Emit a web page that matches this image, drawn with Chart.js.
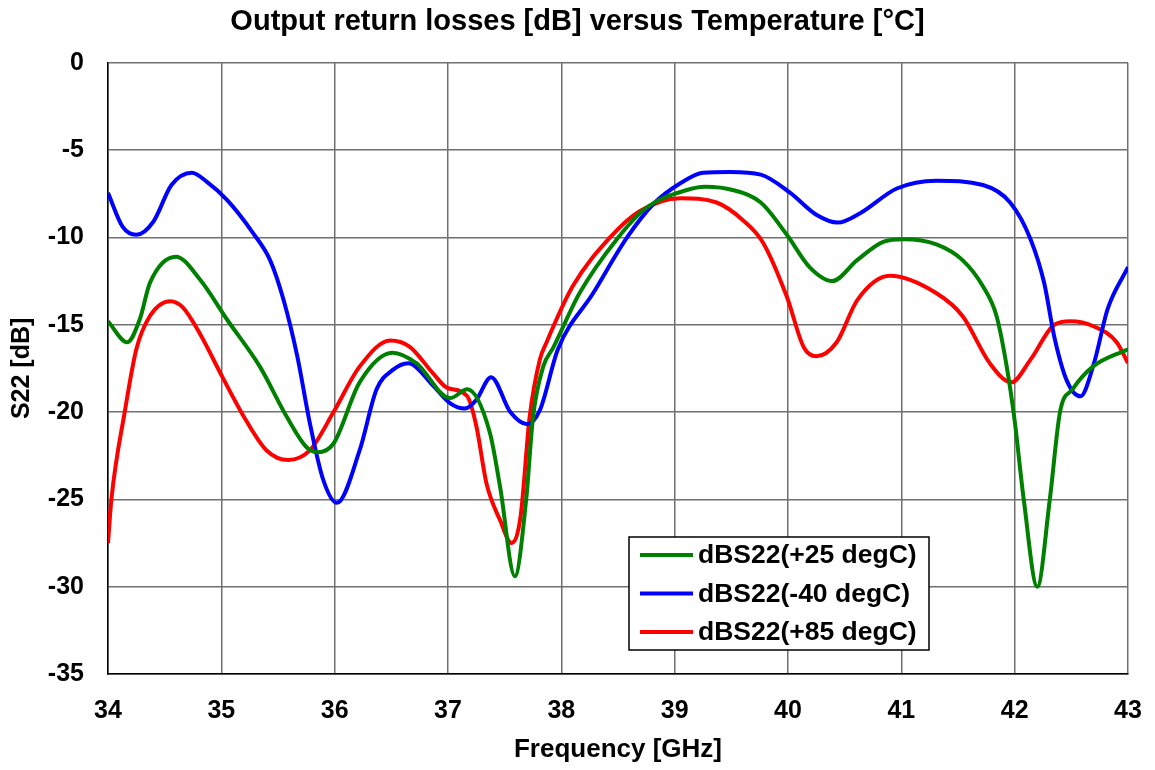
<!DOCTYPE html>
<html>
<head>
<meta charset="utf-8">
<script src="https://cdn.jsdelivr.net/npm/chart.js@4.4.1/dist/chart.umd.min.js"></script>
<style>
  html, body { margin: 0; padding: 0; background: #fff; }
  #wrap { width: 1155px; height: 770px; }
</style>
</head>
<body>
<div id="wrap"><canvas id="chart"></canvas></div>
<script>
const titleText = "Output return losses [dB] versus Temperature [°C]";
const xTitle = "Frequency [GHz]";
const yTitle = "S22 [dB]";
const seriesLabels = ["dBS22(+25 degC)", "dBS22(-40 degC)", "dBS22(+85 degC)"];

const freq25 = [34.0, 34.17, 34.28, 34.37, 34.6, 34.81, 35.05, 35.34, 35.58, 35.75, 35.85, 35.99, 36.22, 36.51, 36.72, 37.02, 37.17, 37.37, 37.46, 37.59, 37.69, 37.75, 37.84, 37.93, 38.16, 38.49, 38.75, 39.1, 39.27, 39.52, 39.76, 39.99, 40.19, 40.39, 40.61, 40.84, 41.02, 41.31, 41.54, 41.72, 41.84, 41.93, 42.0, 42.08, 42.2, 42.31, 42.4, 42.51, 42.69, 43.0];
const s22_25 = [-14.8, -16.0, -14.7, -12.6, -11.1, -12.4, -14.7, -17.4, -20.3, -22.0, -22.3, -21.8, -18.3, -16.6, -17.2, -19.2, -18.7, -21.2, -24.3, -29.4, -25.0, -20.3, -17.4, -16.3, -13.2, -10.1, -8.3, -7.3, -7.1, -7.3, -8.0, -9.85, -11.7, -12.5, -11.3, -10.25, -10.1, -10.4, -11.3, -12.8, -14.5, -17.4, -20.5, -25.0, -30.0, -25.0, -20.0, -18.7, -17.4, -16.4];

const freqM40 = [34.0, 34.13, 34.25, 34.4, 34.56, 34.74, 34.87, 35.05, 35.28, 35.43, 35.55, 35.67, 35.78, 35.9, 36.02, 36.22, 36.37, 36.51, 36.65, 36.87, 37.02, 37.15, 37.25, 37.38, 37.55, 37.7, 37.81, 37.97, 38.28, 38.58, 38.81, 39.05, 39.25, 39.49, 39.76, 40.02, 40.25, 40.44, 40.64, 40.96, 41.31, 41.72, 41.96, 42.14, 42.26, 42.35, 42.46, 42.58, 42.7, 42.82, 43.0];
const s22_m40 = [-7.45, -9.4, -9.85, -9.1, -7.0, -6.3, -6.8, -7.85, -9.75, -11.3, -13.6, -16.8, -20.6, -23.9, -25.2, -22.2, -18.7, -17.6, -17.2, -18.5, -19.5, -19.8, -19.3, -18.0, -20.0, -20.7, -19.9, -16.4, -13.2, -10.0, -8.1, -6.9, -6.3, -6.25, -6.4, -7.45, -8.7, -9.15, -8.6, -7.2, -6.75, -7.0, -8.0, -10.1, -12.6, -15.7, -18.2, -19.1, -17.2, -14.1, -11.7];

const freq85 = [34.0, 34.03, 34.15, 34.25, 34.37, 34.55, 34.66, 34.81, 35.01, 35.22, 35.4, 35.59, 35.78, 35.99, 36.22, 36.49, 36.66, 36.87, 36.99, 37.17, 37.25, 37.34, 37.46, 37.56, 37.64, 37.72, 37.81, 37.87, 38.1, 38.43, 38.69, 39.05, 39.37, 39.6, 39.78, 39.99, 40.14, 40.25, 40.43, 40.61, 40.9, 41.31, 41.54, 41.78, 41.97, 42.14, 42.35, 42.49, 42.7, 42.9, 43.0];
const s22_85 = [-27.5, -25.0, -19.9, -16.4, -14.5, -13.65, -14.0, -15.5, -18.0, -20.5, -22.2, -22.75, -22.2, -20.0, -17.4, -15.9, -16.25, -17.8, -18.6, -19.1, -20.8, -24.1, -26.2, -27.5, -26.0, -20.3, -17.0, -16.0, -12.8, -10.0, -8.5, -7.75, -8.0, -9.0, -10.3, -13.4, -16.3, -16.8, -16.0, -13.6, -12.2, -13.2, -14.5, -17.2, -18.3, -17.0, -15.0, -14.8, -15.1, -16.0, -17.2];

const colors = ["#008000", "#0000ff", "#ff0000"];
const FONT = "'Liberation Sans', Arial, sans-serif";

function pairs(xs, ys) {
  return xs.map((x, i) => ({ x: x, y: ys[i] }));
}

// legend box drawn inside the plot, lower right
const boxLegend = {
  id: "boxLegend",
  afterDraw(chart) {
    const ctx = chart.ctx;
    const left = 629, top = 537, w = 300, h = 113;
    ctx.save();
    ctx.fillStyle = "#fff";
    ctx.fillRect(left, top, w, h);
    ctx.strokeStyle = "#000";
    ctx.lineWidth = 1.5;
    ctx.strokeRect(left, top, w, h);
    ctx.font = "bold 26.5px " + FONT;
    ctx.textBaseline = "middle";
    chart.data.datasets.forEach((ds, i) => {
      const y = 555 + i * 38.5;
      ctx.strokeStyle = ds.borderColor;
      ctx.lineWidth = 4;
      ctx.beginPath();
      ctx.moveTo(640, y);
      ctx.lineTo(693, y);
      ctx.stroke();
      ctx.fillStyle = "#000";
      ctx.fillText(ds.label, 698, y + 1);
    });
    ctx.restore();
  }
};

new Chart(document.getElementById("chart"), {
  type: "line",
  data: {
    datasets: [
      { label: seriesLabels[0], data: pairs(freq25, s22_25), borderColor: colors[0] },
      { label: seriesLabels[1], data: pairs(freqM40, s22_m40), borderColor: colors[1] },
      { label: seriesLabels[2], data: pairs(freq85, s22_85), borderColor: colors[2] },
    ],
  },
  options: {
    responsive: true,
    maintainAspectRatio: false,
    animation: false,
    layout: { padding: 0 },
    elements: {
      point: { radius: 0 },
      line: { borderWidth: 4, cubicInterpolationMode: "monotone" },
    },
    plugins: {
      legend: { display: false },
      tooltip: { enabled: false },
      title: {
        display: true,
        text: titleText,
        color: "#000",
        font: { family: FONT, size: 29, weight: "bold" },
        padding: { top: 5, bottom: 23 },
      },
    },
    scales: {
      x: {
        type: "linear",
        min: 34,
        max: 43,
        ticks: { stepSize: 1, color: "#000", padding: 22, font: { family: FONT, size: 25, weight: "bold" } },
        grid: { color: "#707070", lineWidth: 1.5, tickLength: 0 },
        border: { color: "#000", width: 1.5 },
        title: { display: true, text: xTitle, color: "#000", padding: { top: 0, bottom: 5 }, font: { family: FONT, size: 26, weight: "bold" } },
        afterFit(scale) {
          scale.height = 96;
          scale.paddingLeft = 0;
          scale.paddingRight = 27;
        },
      },
      y: {
        min: -35,
        max: 0,
        ticks: { stepSize: 5, color: "#000", padding: 24, font: { family: FONT, size: 25, weight: "bold" } },
        grid: { color: "#707070", lineWidth: 1.5, tickLength: 0 },
        border: { color: "#000", width: 1.5 },
        title: { display: true, text: yTitle, color: "#000", padding: { top: 7, bottom: 0 }, font: { family: FONT, size: 25, weight: "bold" } },
        afterFit(scale) { scale.width = 108; },
      },
    },
  },
  plugins: [boxLegend],
});
</script>
</body>
</html>
